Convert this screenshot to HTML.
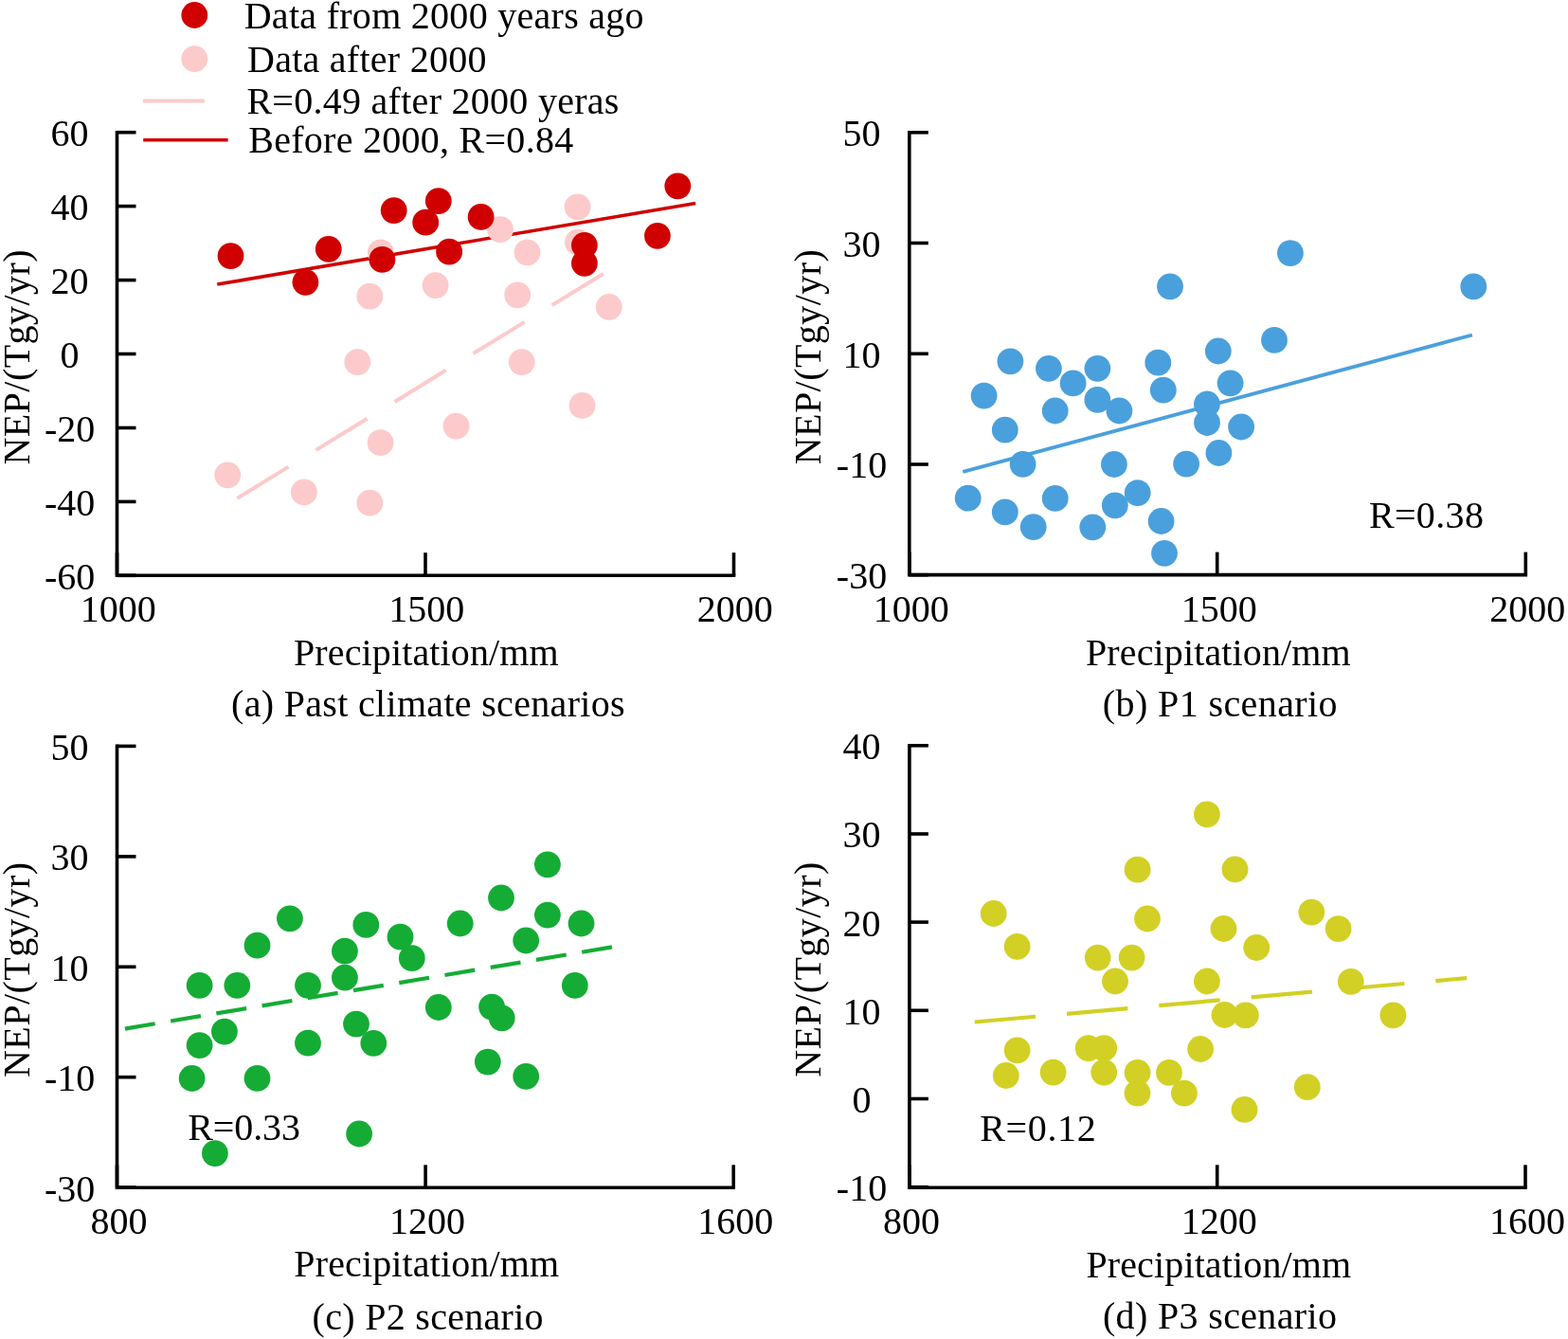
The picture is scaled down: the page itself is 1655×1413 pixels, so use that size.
<!DOCTYPE html>
<html><head><meta charset="utf-8"><title>NEP vs Precipitation</title>
<style>
html,body{margin:0;padding:0;background:#fff;}
svg{display:block;}
svg text{font-family:"Liberation Serif","Times New Roman",serif;font-size:40px;fill:#000;}
</style></head><body>
<svg width="1655" height="1413" viewBox="0 0 1655 1413">
<rect width="1655" height="1413" fill="#fff"/>
<line x1="250.5" y1="525.8" x2="637.2" y2="288.6" stroke="#FCCACA" stroke-width="4" stroke-dasharray="63.4 34"/>
<line x1="229.3" y1="300.1" x2="734.2" y2="214.4" stroke="#D00000" stroke-width="3.6"/>
<circle cx="401.8" cy="266.3" r="13.9" fill="#FCCACA"/>
<circle cx="390.3" cy="312.7" r="13.9" fill="#FCCACA"/>
<circle cx="459.6" cy="301.1" r="13.9" fill="#FCCACA"/>
<circle cx="377.3" cy="382.1" r="13.9" fill="#FCCACA"/>
<circle cx="528.0" cy="242.1" r="13.9" fill="#FCCACA"/>
<circle cx="556.5" cy="266.4" r="13.9" fill="#FCCACA"/>
<circle cx="609.6" cy="218.4" r="13.9" fill="#FCCACA"/>
<circle cx="610.0" cy="255.7" r="13.9" fill="#FCCACA"/>
<circle cx="546.2" cy="311.3" r="13.9" fill="#FCCACA"/>
<circle cx="642.8" cy="324.0" r="13.9" fill="#FCCACA"/>
<circle cx="550.7" cy="382.1" r="13.9" fill="#FCCACA"/>
<circle cx="401.6" cy="467.2" r="13.9" fill="#FCCACA"/>
<circle cx="481.5" cy="449.7" r="13.9" fill="#FCCACA"/>
<circle cx="240.2" cy="501.3" r="13.9" fill="#FCCACA"/>
<circle cx="320.9" cy="519.4" r="13.9" fill="#FCCACA"/>
<circle cx="390.3" cy="530.7" r="13.9" fill="#FCCACA"/>
<circle cx="614.5" cy="427.9" r="13.9" fill="#FCCACA"/>
<circle cx="243.5" cy="270.1" r="13.9" fill="#D00000"/>
<circle cx="346.8" cy="262.8" r="13.9" fill="#D00000"/>
<circle cx="322.4" cy="297.8" r="13.9" fill="#D00000"/>
<circle cx="415.7" cy="222.1" r="13.9" fill="#D00000"/>
<circle cx="403.4" cy="273.9" r="13.9" fill="#D00000"/>
<circle cx="462.8" cy="212.1" r="13.9" fill="#D00000"/>
<circle cx="449.2" cy="234.7" r="13.9" fill="#D00000"/>
<circle cx="474.1" cy="265.7" r="13.9" fill="#D00000"/>
<circle cx="507.6" cy="228.9" r="13.9" fill="#D00000"/>
<circle cx="616.9" cy="258.8" r="13.9" fill="#D00000"/>
<circle cx="616.9" cy="277.8" r="13.9" fill="#D00000"/>
<circle cx="693.9" cy="248.8" r="13.9" fill="#D00000"/>
<circle cx="715.3" cy="196.3" r="13.9" fill="#D00000"/>
<path d="M123.5,139.7 V607.2 H774.5" fill="none" stroke="#000" stroke-width="3.6" stroke-linecap="square" stroke-linejoin="miter"/>
<line x1="123.5" y1="139.7" x2="143.5" y2="139.7" stroke="#000" stroke-width="3.6"/>
<text x="73.6" y="154.1" text-anchor="middle">60</text>
<line x1="123.5" y1="217.6" x2="143.5" y2="217.6" stroke="#000" stroke-width="3.6"/>
<text x="73.6" y="232.0" text-anchor="middle">40</text>
<line x1="123.5" y1="295.6" x2="143.5" y2="295.6" stroke="#000" stroke-width="3.6"/>
<text x="73.6" y="310.0" text-anchor="middle">20</text>
<line x1="123.5" y1="373.5" x2="143.5" y2="373.5" stroke="#000" stroke-width="3.6"/>
<text x="73.6" y="387.9" text-anchor="middle">0</text>
<line x1="123.5" y1="451.5" x2="143.5" y2="451.5" stroke="#000" stroke-width="3.6"/>
<text x="73.6" y="465.9" text-anchor="middle">-20</text>
<line x1="123.5" y1="529.4" x2="143.5" y2="529.4" stroke="#000" stroke-width="3.6"/>
<text x="73.6" y="543.8" text-anchor="middle">-40</text>
<line x1="123.5" y1="607.3" x2="143.5" y2="607.3" stroke="#000" stroke-width="3.6"/>
<text x="73.6" y="621.7" text-anchor="middle">-60</text>
<line x1="123.5" y1="607.2" x2="123.5" y2="583.2" stroke="#000" stroke-width="3.6"/>
<text x="124.7" y="656.2" text-anchor="middle">1000</text>
<line x1="449.0" y1="607.2" x2="449.0" y2="583.2" stroke="#000" stroke-width="3.6"/>
<text x="450.2" y="656.2" text-anchor="middle">1500</text>
<line x1="774.5" y1="607.2" x2="774.5" y2="583.2" stroke="#000" stroke-width="3.6"/>
<text x="775.7" y="656.2" text-anchor="middle">2000</text>
<line x1="1016.3" y1="497.9" x2="1553.9" y2="353.5" stroke="#4AA0DC" stroke-width="3.8"/>
<circle cx="1066.4" cy="381.3" r="13.9" fill="#4AA0DC"/>
<circle cx="1106.9" cy="388.8" r="13.9" fill="#4AA0DC"/>
<circle cx="1158.4" cy="388.8" r="13.9" fill="#4AA0DC"/>
<circle cx="1132.6" cy="404.4" r="13.9" fill="#4AA0DC"/>
<circle cx="1038.6" cy="417.6" r="13.9" fill="#4AA0DC"/>
<circle cx="1158.4" cy="421.9" r="13.9" fill="#4AA0DC"/>
<circle cx="1181.4" cy="433.5" r="13.9" fill="#4AA0DC"/>
<circle cx="1113.7" cy="433.5" r="13.9" fill="#4AA0DC"/>
<circle cx="1222.3" cy="382.7" r="13.9" fill="#4AA0DC"/>
<circle cx="1227.8" cy="411.7" r="13.9" fill="#4AA0DC"/>
<circle cx="1060.8" cy="453.7" r="13.9" fill="#4AA0DC"/>
<circle cx="1079.6" cy="489.9" r="13.9" fill="#4AA0DC"/>
<circle cx="1175.9" cy="490.0" r="13.9" fill="#4AA0DC"/>
<circle cx="1252.1" cy="489.6" r="13.9" fill="#4AA0DC"/>
<circle cx="1273.9" cy="426.5" r="13.9" fill="#4AA0DC"/>
<circle cx="1274.0" cy="446.0" r="13.9" fill="#4AA0DC"/>
<circle cx="1285.8" cy="370.5" r="13.9" fill="#4AA0DC"/>
<circle cx="1298.6" cy="404.3" r="13.9" fill="#4AA0DC"/>
<circle cx="1021.7" cy="525.7" r="13.9" fill="#4AA0DC"/>
<circle cx="1060.8" cy="540.4" r="13.9" fill="#4AA0DC"/>
<circle cx="1090.7" cy="556.1" r="13.9" fill="#4AA0DC"/>
<circle cx="1113.7" cy="525.9" r="13.9" fill="#4AA0DC"/>
<circle cx="1153.3" cy="556.3" r="13.9" fill="#4AA0DC"/>
<circle cx="1176.8" cy="533.3" r="13.9" fill="#4AA0DC"/>
<circle cx="1200.7" cy="520.1" r="13.9" fill="#4AA0DC"/>
<circle cx="1225.6" cy="550.0" r="13.9" fill="#4AA0DC"/>
<circle cx="1229.0" cy="583.8" r="13.9" fill="#4AA0DC"/>
<circle cx="1310.1" cy="450.5" r="13.9" fill="#4AA0DC"/>
<circle cx="1286.4" cy="478.0" r="13.9" fill="#4AA0DC"/>
<circle cx="1345.0" cy="358.9" r="13.9" fill="#4AA0DC"/>
<circle cx="1235.0" cy="302.4" r="13.9" fill="#4AA0DC"/>
<circle cx="1361.9" cy="267.1" r="13.9" fill="#4AA0DC"/>
<circle cx="1555.3" cy="302.4" r="13.9" fill="#4AA0DC"/>
<path d="M959.8,139.8 V606.6 H1610.3" fill="none" stroke="#000" stroke-width="3.6" stroke-linecap="square" stroke-linejoin="miter"/>
<line x1="959.8" y1="139.8" x2="979.8" y2="139.8" stroke="#000" stroke-width="3.6"/>
<text x="909.5" y="154.2" text-anchor="middle">50</text>
<line x1="959.8" y1="256.5" x2="979.8" y2="256.5" stroke="#000" stroke-width="3.6"/>
<text x="909.5" y="270.9" text-anchor="middle">30</text>
<line x1="959.8" y1="373.3" x2="979.8" y2="373.3" stroke="#000" stroke-width="3.6"/>
<text x="909.5" y="387.7" text-anchor="middle">10</text>
<line x1="959.8" y1="490.0" x2="979.8" y2="490.0" stroke="#000" stroke-width="3.6"/>
<text x="909.5" y="504.4" text-anchor="middle">-10</text>
<line x1="959.8" y1="606.7" x2="979.8" y2="606.7" stroke="#000" stroke-width="3.6"/>
<text x="909.5" y="621.1" text-anchor="middle">-30</text>
<line x1="959.8" y1="606.6" x2="959.8" y2="582.6" stroke="#000" stroke-width="3.6"/>
<text x="961.8" y="655.6" text-anchor="middle">1000</text>
<line x1="1284.7" y1="606.6" x2="1284.7" y2="582.6" stroke="#000" stroke-width="3.6"/>
<text x="1286.7" y="655.6" text-anchor="middle">1500</text>
<line x1="1610.3" y1="606.6" x2="1610.3" y2="582.6" stroke="#000" stroke-width="3.6"/>
<text x="1612.3" y="655.6" text-anchor="middle">2000</text>
<line x1="131.9" y1="1085.6" x2="646.2" y2="999.4" stroke="#15AC35" stroke-width="4.2" stroke-dasharray="32.2 16.7"/>
<circle cx="305.9" cy="969.3" r="13.9" fill="#15AC35"/>
<circle cx="271.5" cy="997.7" r="13.9" fill="#15AC35"/>
<circle cx="386.3" cy="975.9" r="13.9" fill="#15AC35"/>
<circle cx="363.9" cy="1003.7" r="13.9" fill="#15AC35"/>
<circle cx="363.9" cy="1031.7" r="13.9" fill="#15AC35"/>
<circle cx="422.5" cy="988.7" r="13.9" fill="#15AC35"/>
<circle cx="210.6" cy="1039.8" r="13.9" fill="#15AC35"/>
<circle cx="250.3" cy="1039.8" r="13.9" fill="#15AC35"/>
<circle cx="325.0" cy="1039.8" r="13.9" fill="#15AC35"/>
<circle cx="236.9" cy="1088.6" r="13.9" fill="#15AC35"/>
<circle cx="210.6" cy="1103.1" r="13.9" fill="#15AC35"/>
<circle cx="325.0" cy="1100.7" r="13.9" fill="#15AC35"/>
<circle cx="376.0" cy="1080.6" r="13.9" fill="#15AC35"/>
<circle cx="394.3" cy="1100.8" r="13.9" fill="#15AC35"/>
<circle cx="202.6" cy="1138.0" r="13.9" fill="#15AC35"/>
<circle cx="271.5" cy="1137.9" r="13.9" fill="#15AC35"/>
<circle cx="379.1" cy="1196.5" r="13.9" fill="#15AC35"/>
<circle cx="226.9" cy="1217.1" r="13.9" fill="#15AC35"/>
<circle cx="434.8" cy="1011.2" r="13.9" fill="#15AC35"/>
<circle cx="485.7" cy="974.5" r="13.9" fill="#15AC35"/>
<circle cx="529.0" cy="947.5" r="13.9" fill="#15AC35"/>
<circle cx="577.9" cy="912.3" r="13.9" fill="#15AC35"/>
<circle cx="577.9" cy="965.6" r="13.9" fill="#15AC35"/>
<circle cx="555.2" cy="992.5" r="13.9" fill="#15AC35"/>
<circle cx="613.5" cy="974.5" r="13.9" fill="#15AC35"/>
<circle cx="606.8" cy="1039.9" r="13.9" fill="#15AC35"/>
<circle cx="462.8" cy="1063.0" r="13.9" fill="#15AC35"/>
<circle cx="519.1" cy="1062.6" r="13.9" fill="#15AC35"/>
<circle cx="529.7" cy="1074.3" r="13.9" fill="#15AC35"/>
<circle cx="514.8" cy="1120.6" r="13.9" fill="#15AC35"/>
<circle cx="555.2" cy="1135.8" r="13.9" fill="#15AC35"/>
<path d="M123.5,787.4 V1253.3 H774.2" fill="none" stroke="#000" stroke-width="3.6" stroke-linecap="square" stroke-linejoin="miter"/>
<line x1="123.5" y1="787.4" x2="143.5" y2="787.4" stroke="#000" stroke-width="3.6"/>
<text x="73.6" y="801.8" text-anchor="middle">50</text>
<line x1="123.5" y1="903.9" x2="143.5" y2="903.9" stroke="#000" stroke-width="3.6"/>
<text x="73.6" y="918.3" text-anchor="middle">30</text>
<line x1="123.5" y1="1020.3" x2="143.5" y2="1020.3" stroke="#000" stroke-width="3.6"/>
<text x="73.6" y="1034.7" text-anchor="middle">10</text>
<line x1="123.5" y1="1136.7" x2="143.5" y2="1136.7" stroke="#000" stroke-width="3.6"/>
<text x="73.6" y="1151.1" text-anchor="middle">-10</text>
<line x1="123.5" y1="1253.1" x2="143.5" y2="1253.1" stroke="#000" stroke-width="3.6"/>
<text x="73.6" y="1267.5" text-anchor="middle">-30</text>
<line x1="123.5" y1="1253.3" x2="123.5" y2="1229.3" stroke="#000" stroke-width="3.6"/>
<text x="125.5" y="1302.3" text-anchor="middle">800</text>
<line x1="449.1" y1="1253.3" x2="449.1" y2="1229.3" stroke="#000" stroke-width="3.6"/>
<text x="451.1" y="1302.3" text-anchor="middle">1200</text>
<line x1="774.2" y1="1253.3" x2="774.2" y2="1229.3" stroke="#000" stroke-width="3.6"/>
<text x="776.2" y="1302.3" text-anchor="middle">1600</text>
<line x1="1028.7" y1="1078.5" x2="1548.2" y2="1032.1" stroke="#D2D024" stroke-width="4.2" stroke-dasharray="64.6 33.1"/>
<circle cx="1273.9" cy="859.3" r="13.9" fill="#D2D024"/>
<circle cx="1200.6" cy="917.7" r="13.9" fill="#D2D024"/>
<circle cx="1303.5" cy="917.4" r="13.9" fill="#D2D024"/>
<circle cx="1048.7" cy="964.0" r="13.9" fill="#D2D024"/>
<circle cx="1211.0" cy="969.5" r="13.9" fill="#D2D024"/>
<circle cx="1291.5" cy="980.0" r="13.9" fill="#D2D024"/>
<circle cx="1073.6" cy="998.8" r="13.9" fill="#D2D024"/>
<circle cx="1158.7" cy="1010.6" r="13.9" fill="#D2D024"/>
<circle cx="1194.6" cy="1010.6" r="13.9" fill="#D2D024"/>
<circle cx="1177.0" cy="1035.5" r="13.9" fill="#D2D024"/>
<circle cx="1273.9" cy="1035.5" r="13.9" fill="#D2D024"/>
<circle cx="1292.5" cy="1071.0" r="13.9" fill="#D2D024"/>
<circle cx="1314.8" cy="1071.3" r="13.9" fill="#D2D024"/>
<circle cx="1073.6" cy="1108.3" r="13.9" fill="#D2D024"/>
<circle cx="1061.8" cy="1135.0" r="13.9" fill="#D2D024"/>
<circle cx="1111.6" cy="1131.6" r="13.9" fill="#D2D024"/>
<circle cx="1148.7" cy="1106.2" r="13.9" fill="#D2D024"/>
<circle cx="1165.2" cy="1106.1" r="13.9" fill="#D2D024"/>
<circle cx="1165.2" cy="1131.6" r="13.9" fill="#D2D024"/>
<circle cx="1200.6" cy="1131.9" r="13.9" fill="#D2D024"/>
<circle cx="1200.5" cy="1153.6" r="13.9" fill="#D2D024"/>
<circle cx="1234.0" cy="1131.9" r="13.9" fill="#D2D024"/>
<circle cx="1249.9" cy="1153.6" r="13.9" fill="#D2D024"/>
<circle cx="1267.1" cy="1107.0" r="13.9" fill="#D2D024"/>
<circle cx="1313.5" cy="1170.9" r="13.9" fill="#D2D024"/>
<circle cx="1326.2" cy="1000.0" r="13.9" fill="#D2D024"/>
<circle cx="1384.3" cy="962.6" r="13.9" fill="#D2D024"/>
<circle cx="1412.6" cy="980.1" r="13.9" fill="#D2D024"/>
<circle cx="1425.8" cy="1035.8" r="13.9" fill="#D2D024"/>
<circle cx="1470.4" cy="1071.3" r="13.9" fill="#D2D024"/>
<circle cx="1379.8" cy="1147.2" r="13.9" fill="#D2D024"/>
<path d="M959.9,786.8 V1253.3 H1610.0" fill="none" stroke="#000" stroke-width="3.6" stroke-linecap="square" stroke-linejoin="miter"/>
<line x1="959.9" y1="786.8" x2="979.9" y2="786.8" stroke="#000" stroke-width="3.6"/>
<text x="909.5" y="801.2" text-anchor="middle">40</text>
<line x1="959.9" y1="880.0" x2="979.9" y2="880.0" stroke="#000" stroke-width="3.6"/>
<text x="909.5" y="894.4" text-anchor="middle">30</text>
<line x1="959.9" y1="973.1" x2="979.9" y2="973.1" stroke="#000" stroke-width="3.6"/>
<text x="909.5" y="987.5" text-anchor="middle">20</text>
<line x1="959.9" y1="1066.3" x2="979.9" y2="1066.3" stroke="#000" stroke-width="3.6"/>
<text x="909.5" y="1080.7" text-anchor="middle">10</text>
<line x1="959.9" y1="1159.5" x2="979.9" y2="1159.5" stroke="#000" stroke-width="3.6"/>
<text x="909.5" y="1173.9" text-anchor="middle">0</text>
<line x1="959.9" y1="1252.7" x2="979.9" y2="1252.7" stroke="#000" stroke-width="3.6"/>
<text x="909.5" y="1267.1" text-anchor="middle">-10</text>
<line x1="959.9" y1="1253.3" x2="959.9" y2="1229.3" stroke="#000" stroke-width="3.6"/>
<text x="961.9" y="1302.3" text-anchor="middle">800</text>
<line x1="1284.7" y1="1253.3" x2="1284.7" y2="1229.3" stroke="#000" stroke-width="3.6"/>
<text x="1286.7" y="1302.3" text-anchor="middle">1200</text>
<line x1="1610.0" y1="1253.3" x2="1610.0" y2="1229.3" stroke="#000" stroke-width="3.6"/>
<text x="1612.0" y="1302.3" text-anchor="middle">1600</text>
<text x="257.7" y="30.1" textLength="421.92" lengthAdjust="spacing">Data from 2000 years ago</text>
<text x="261.0" y="75.7" textLength="252.48" lengthAdjust="spacing">Data after 2000</text>
<text x="260.4" y="119.8" textLength="393.01" lengthAdjust="spacing">R=0.49 after 2000 yeras</text>
<text x="262.2" y="160.7" textLength="342.98" lengthAdjust="spacing">Before 2000, R=0.84</text>
<text x="310.0" y="701.7" textLength="279.73" lengthAdjust="spacing">Precipitation/mm</text>
<text x="1146.0" y="701.8" textLength="279.73" lengthAdjust="spacing">Precipitation/mm</text>
<text x="310.3" y="1347.4" textLength="279.73" lengthAdjust="spacing">Precipitation/mm</text>
<text x="1146.4" y="1347.7" textLength="279.73" lengthAdjust="spacing">Precipitation/mm</text>
<text x="244.0" y="756.0" textLength="415.62" lengthAdjust="spacing">(a) Past climate scenarios</text>
<text x="1163.8" y="756.3" textLength="247.76" lengthAdjust="spacing">(b) P1 scenario</text>
<text x="329.6" y="1402.5" textLength="244.01" lengthAdjust="spacing">(c) P2 scenario</text>
<text x="1163.9" y="1401.6" textLength="247.06" lengthAdjust="spacing">(d) P3 scenario</text>
<text x="1444.9" y="557.0" textLength="121.05" lengthAdjust="spacing">R=0.38</text>
<text x="198.3" y="1203.3" textLength="118.65" lengthAdjust="spacing">R=0.33</text>
<text x="1034.3" y="1204.0" textLength="122.35" lengthAdjust="spacing">R=0.12</text>
<text transform="translate(30.5,490.6) rotate(-90)" x="0" y="0" textLength="227.19" lengthAdjust="spacing">NEP/(Tgy/yr)</text>
<text transform="translate(865.9,490.3) rotate(-90)" x="0" y="0" textLength="227.19" lengthAdjust="spacing">NEP/(Tgy/yr)</text>
<text transform="translate(30.6,1137.0) rotate(-90)" x="0" y="0" textLength="227.19" lengthAdjust="spacing">NEP/(Tgy/yr)</text>
<text transform="translate(866.3,1136.8) rotate(-90)" x="0" y="0" textLength="227.19" lengthAdjust="spacing">NEP/(Tgy/yr)</text>
<circle cx="205.3" cy="16.0" r="13.9" fill="#D00000"/>
<circle cx="205.3" cy="62.2" r="13.9" fill="#FCCACA"/>
<line x1="151" y1="106.6" x2="215.8" y2="106.6" stroke="#FCCACA" stroke-width="4"/>
<line x1="151.2" y1="147.7" x2="240.6" y2="147.7" stroke="#D00000" stroke-width="3.6"/>
</svg>
</body></html>
